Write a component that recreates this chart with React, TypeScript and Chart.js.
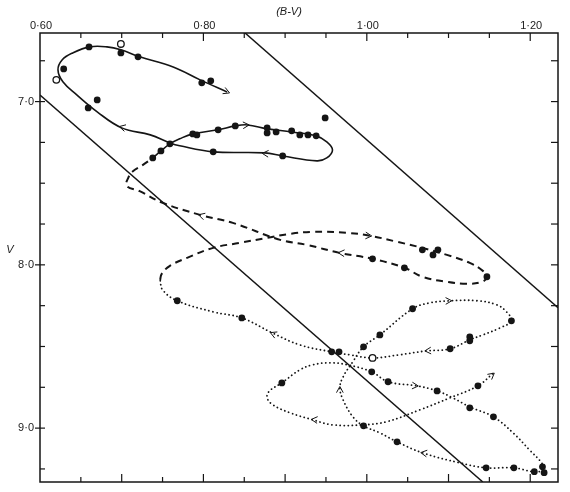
import React, { useEffect, useRef } from "react";
import { Chart, registerables } from "chart.js";
Chart.register(...registerables);

// ---- axes ----
const xRange = [0.6, 1.234];
const yRange = [6.58, 9.33];
const xTopTicks = [0.65, 0.7, 0.75, 0.8, 0.85, 0.9, 0.95, 1.0, 1.05, 1.1, 1.15, 1.2];
const xLabelTicks = [0.6, 0.8, 1.0, 1.2];
const xTickLabels = ["0·60", "0·80", "1·00", "1·20"];
const yTicks = [6.75, 7.0, 7.25, 7.5, 7.75, 8.0, 8.25, 8.5, 8.75, 9.0, 9.25];
const yLabelTicks = [7.0, 8.0, 9.0];
const yTickLabels = ["7·0", "8·0", "9·0"];
const xTitle = "(B-V)";
const yTitle = "V";

// ---- reference straight lines ----
const refLine1BV = [0.6, 1.142];
const refLine1V = [6.96, 9.33];
const refLine2BV = [0.851, 1.234];
const refLine2V = [6.58, 8.263];

// ---- solid track ----
const solidBV = [0.738, 0.748, 0.759, 0.771, 0.787, 0.818, 0.839, 0.854, 0.878, 0.908, 0.938, 0.951, 0.958, 0.951, 0.939, 0.897, 0.875, 0.812, 0.771, 0.759, 0.735, 0.7, 0.67, 0.645, 0.628, 0.622, 0.627, 0.64, 0.661, 0.682, 0.699, 0.722, 0.763, 0.796, 0.829];
const solidV = [7.345, 7.302, 7.259, 7.228, 7.198, 7.173, 7.149, 7.143, 7.167, 7.186, 7.21, 7.247, 7.296, 7.345, 7.363, 7.333, 7.314, 7.308, 7.271, 7.253, 7.204, 7.161, 7.063, 6.959, 6.879, 6.806, 6.745, 6.702, 6.665, 6.665, 6.683, 6.726, 6.788, 6.867, 6.941];

// ---- dashed track ----
const dashedBV = [0.747, 0.749, 0.759, 0.78, 0.812, 0.845, 0.878, 0.906, 0.934, 0.976, 1.004, 1.037, 1.068, 1.098, 1.126, 1.142, 1.147, 1.141, 1.122, 1.098, 1.068, 1.046, 1.007, 0.967, 0.927, 0.894, 0.836, 0.796, 0.75, 0.722, 0.706, 0.708, 0.713, 0.726, 0.738];
const dashedV = [8.092, 8.055, 8.006, 7.957, 7.896, 7.865, 7.835, 7.81, 7.798, 7.804, 7.822, 7.859, 7.896, 7.939, 7.988, 8.037, 8.073, 8.104, 8.116, 8.104, 8.073, 8.018, 7.963, 7.927, 7.878, 7.847, 7.743, 7.694, 7.62, 7.549, 7.516, 7.467, 7.43, 7.388, 7.345];

// ---- dotted track ----
const dottedBV = [1.154, 1.136, 1.102, 1.065, 1.024, 0.995, 0.958, 0.934, 0.906, 0.885, 0.878, 0.881, 0.896, 0.918, 0.934, 0.955, 0.976, 1.006, 1.026, 1.061, 1.086, 1.105, 1.126, 1.155, 1.179, 1.199, 1.214, 1.217, 1.205, 1.18, 1.146, 1.114, 1.068, 1.037, 1.016, 0.996, 0.983, 0.971, 0.967, 0.971, 0.982, 0.996, 1.016, 1.056, 1.077, 1.102, 1.135, 1.159, 1.171, 1.177, 1.163, 1.142, 1.126, 1.102, 1.073, 1.04, 1.007, 0.979, 0.957, 0.918, 0.884, 0.847, 0.812, 0.768, 0.75, 0.747];
const dottedV = [8.667, 8.741, 8.814, 8.888, 8.961, 8.98, 8.98, 8.949, 8.906, 8.857, 8.814, 8.772, 8.723, 8.643, 8.612, 8.6, 8.612, 8.655, 8.716, 8.741, 8.772, 8.814, 8.87, 8.931, 9.029, 9.133, 9.213, 9.255, 9.267, 9.243, 9.243, 9.213, 9.151, 9.084, 9.029, 8.986, 8.931, 8.827, 8.753, 8.686, 8.6, 8.502, 8.429, 8.269, 8.233, 8.22, 8.22, 8.245, 8.288, 8.343, 8.386, 8.429, 8.459, 8.514, 8.527, 8.551, 8.57, 8.551, 8.533, 8.49, 8.416, 8.325, 8.288, 8.22, 8.153, 8.092];

// ---- observations (filled) ----
const solidObsBV = [0.629, 0.66, 0.699, 0.72, 0.798, 0.809, 0.659, 0.67, 0.738, 0.748, 0.759, 0.787, 0.792, 0.818, 0.839, 0.878, 0.878, 0.889, 0.908, 0.918, 0.928, 0.938, 0.949, 0.897, 0.812];
const solidObsV = [6.8, 6.665, 6.702, 6.726, 6.885, 6.873, 7.039, 6.99, 7.345, 7.302, 7.259, 7.198, 7.204, 7.173, 7.149, 7.161, 7.192, 7.186, 7.179, 7.204, 7.204, 7.21, 7.1, 7.333, 7.308];
const dashedObsBV = [1.068, 1.081, 1.087, 1.147, 1.046, 1.007];
const dashedObsV = [7.908, 7.939, 7.908, 8.073, 8.018, 7.963];
const dottedObsBV = [0.768, 0.847, 0.957, 0.966, 0.996, 1.016, 1.056, 1.177, 1.126, 1.126, 1.102, 1.006, 1.026, 1.086, 1.126, 1.155, 1.215, 1.217, 1.205, 1.18, 1.146, 1.037, 0.996, 0.896, 1.136];
const dottedObsV = [8.22, 8.325, 8.533, 8.533, 8.502, 8.429, 8.269, 8.343, 8.441, 8.465, 8.514, 8.655, 8.716, 8.772, 8.876, 8.931, 9.237, 9.273, 9.267, 9.243, 9.243, 9.084, 8.986, 8.723, 8.741];
// ---- observations (open) ----
const openObsBV = [0.62, 0.699, 1.007];
const openObsV = [6.867, 6.647, 8.57];

// ---- direction arrows (tip and a point behind it) ----
const arrowTipBV = [0.832, 0.856, 0.872, 0.697, 1.006, 0.965, 0.794, 1.156, 0.932, 1.063, 1.066, 0.967, 1.104, 1.071, 0.882];
const arrowTipV = [6.947, 7.143, 7.317, 7.153, 7.823, 7.926, 7.693, 8.663, 8.947, 8.742, 9.15, 8.745, 8.22, 8.527, 8.415];
const arrowTailBV = [0.818, 0.842, 0.886, 0.712, 0.992, 0.979, 0.808, 1.145, 0.946, 1.049, 1.08, 0.967, 1.09, 1.085, 0.896];
const arrowTailV = [6.918, 7.147, 7.322, 7.172, 7.818, 7.931, 7.714, 8.708, 8.953, 8.737, 9.16, 8.765, 8.222, 8.523, 8.445];

const INK = "#151515";
const FONT = '"Liberation Sans", Arial, sans-serif';

function pts(xs: number[], ys: number[]) {
  const n = Math.min(xs.length, ys.length);
  const out: { x: number; y: number }[] = [];
  for (let i = 0; i < n; i++) out.push({ x: xs[i], y: ys[i] });
  return out;
}

const decorPlugin = {
  id: "decor",
  afterDatasetsDraw(chart: any) {
    const { ctx, chartArea: a, scales } = chart;
    const x = scales.x;
    const y = scales.y;
    ctx.save();
    ctx.strokeStyle = INK;
    ctx.fillStyle = INK;
    ctx.lineCap = "butt";

    // arrows
    ctx.lineWidth = 1;
    for (let i = 0; i < arrowTipBV.length; i++) {
      const tx = x.getPixelForValue(arrowTipBV[i]);
      const ty = y.getPixelForValue(arrowTipV[i]);
      const bx = x.getPixelForValue(arrowTailBV[i]);
      const by = y.getPixelForValue(arrowTailV[i]);
      const ang = Math.atan2(ty - by, tx - bx);
      const len = 7;
      const spread = 0.5;
      ctx.beginPath();
      ctx.moveTo(tx - len * Math.cos(ang - spread), ty - len * Math.sin(ang - spread));
      ctx.lineTo(tx, ty);
      ctx.lineTo(tx - len * Math.cos(ang + spread), ty - len * Math.sin(ang + spread));
      ctx.stroke();
    }

    // frame
    ctx.lineWidth = 1.5;
    ctx.strokeRect(a.left, a.top, a.right - a.left, a.bottom - a.top);

    // top ticks (inward)
    ctx.lineWidth = 1.2;
    xTopTicks.forEach((v) => {
      const px = x.getPixelForValue(v);
      const major = xLabelTicks.some((m) => Math.abs(m - v) < 1e-6);
      ctx.beginPath();
      ctx.moveTo(px, a.top);
      ctx.lineTo(px, a.top + (major ? 8 : 5));
      ctx.stroke();
    });
    // bottom ticks (inward)
    xTopTicks.forEach((v) => {
      const px = x.getPixelForValue(v);
      const tenth = Math.abs(Math.round(v * 10) - v * 10) < 1e-6;
      ctx.beginPath();
      ctx.moveTo(px, a.bottom);
      ctx.lineTo(px, a.bottom - (tenth ? 8 : 5));
      ctx.stroke();
    });
    // left and right ticks
    yTicks.forEach((v) => {
      const py = y.getPixelForValue(v);
      const major = yLabelTicks.some((m) => Math.abs(m - v) < 1e-6);
      ctx.beginPath();
      ctx.moveTo(a.left - (major ? 5 : 0), py);
      ctx.lineTo(a.left + 5, py);
      ctx.stroke();
      ctx.beginPath();
      ctx.moveTo(a.right, py);
      ctx.lineTo(a.right - 7, py);
      ctx.stroke();
    });

    // tick labels
    ctx.font = `11px ${FONT}`;
    ctx.fillStyle = "#222";
    ctx.textAlign = "center";
    ctx.textBaseline = "middle";
    xLabelTicks.forEach((v, i) => {
      ctx.fillText(xTickLabels[i], x.getPixelForValue(v) + 1, a.top - 7);
    });
    ctx.textAlign = "right";
    yLabelTicks.forEach((v, i) => {
      ctx.fillText(yTickLabels[i], a.left - 6, y.getPixelForValue(v));
    });

    // axis titles
    ctx.font = `italic 11px ${FONT}`;
    ctx.textAlign = "center";
    ctx.fillText(xTitle, (a.left + a.right) / 2 - 10, a.top - 21);
    ctx.fillText(yTitle, a.left - 30, y.getPixelForValue(7.91));
    ctx.restore();
  },
};

export default function App() {
  const ref = useRef<HTMLCanvasElement | null>(null);
  useEffect(() => {
    if (!ref.current) return;
    const lineBase = { showLine: true, pointRadius: 0, borderColor: INK, fill: false };
    const chart = new Chart(ref.current, {
      type: "scatter",
      data: {
        datasets: [
          { data: pts(openObsBV, openObsV), pointRadius: 3.3, backgroundColor: "#fff", borderColor: INK, borderWidth: 1.3, showLine: false },
          { data: pts(solidObsBV, solidObsV), pointRadius: 3.4, backgroundColor: INK, borderColor: INK, borderWidth: 0, showLine: false },
          { data: pts(dashedObsBV, dashedObsV), pointRadius: 3.4, backgroundColor: INK, borderColor: INK, borderWidth: 0, showLine: false },
          { data: pts(dottedObsBV, dottedObsV), pointRadius: 3.4, backgroundColor: INK, borderColor: INK, borderWidth: 0, showLine: false },
          { ...lineBase, data: pts(solidBV, solidV), borderWidth: 1.6, tension: 0.4 },
          { ...lineBase, data: pts(dashedBV, dashedV), borderWidth: 2, borderDash: [7, 5], tension: 0.4 },
          { ...lineBase, data: pts(dottedBV, dottedV), borderWidth: 1.8, borderDash: [0.1, 4], borderCapStyle: "round", tension: 0.4 },
          { ...lineBase, data: pts(refLine1BV, refLine1V), borderWidth: 1.5, tension: 0 },
          { ...lineBase, data: pts(refLine2BV, refLine2V), borderWidth: 1.5, tension: 0 },
        ] as any,
      },
      options: {
        responsive: false,
        animation: false,
        devicePixelRatio: 1,
        events: [],
        layout: { padding: { left: 40, top: 33, right: 12, bottom: 10 } },
        scales: {
          x: { type: "linear", min: xRange[0], max: xRange[1], display: false },
          y: { type: "linear", min: yRange[0], max: yRange[1], reverse: true, display: false },
        },
        plugins: { legend: { display: false }, tooltip: { enabled: false }, title: { display: false } },
      } as any,
      plugins: [decorPlugin],
    });
    return () => chart.destroy();
  }, []);
  return (
    <div style={{ position: "absolute", left: 0, top: 0, width: 570, height: 492, background: "#fff" }}>
      <canvas ref={ref} width={570} height={492} style={{ width: 570, height: 492, display: "block" }} />
    </div>
  );
}
